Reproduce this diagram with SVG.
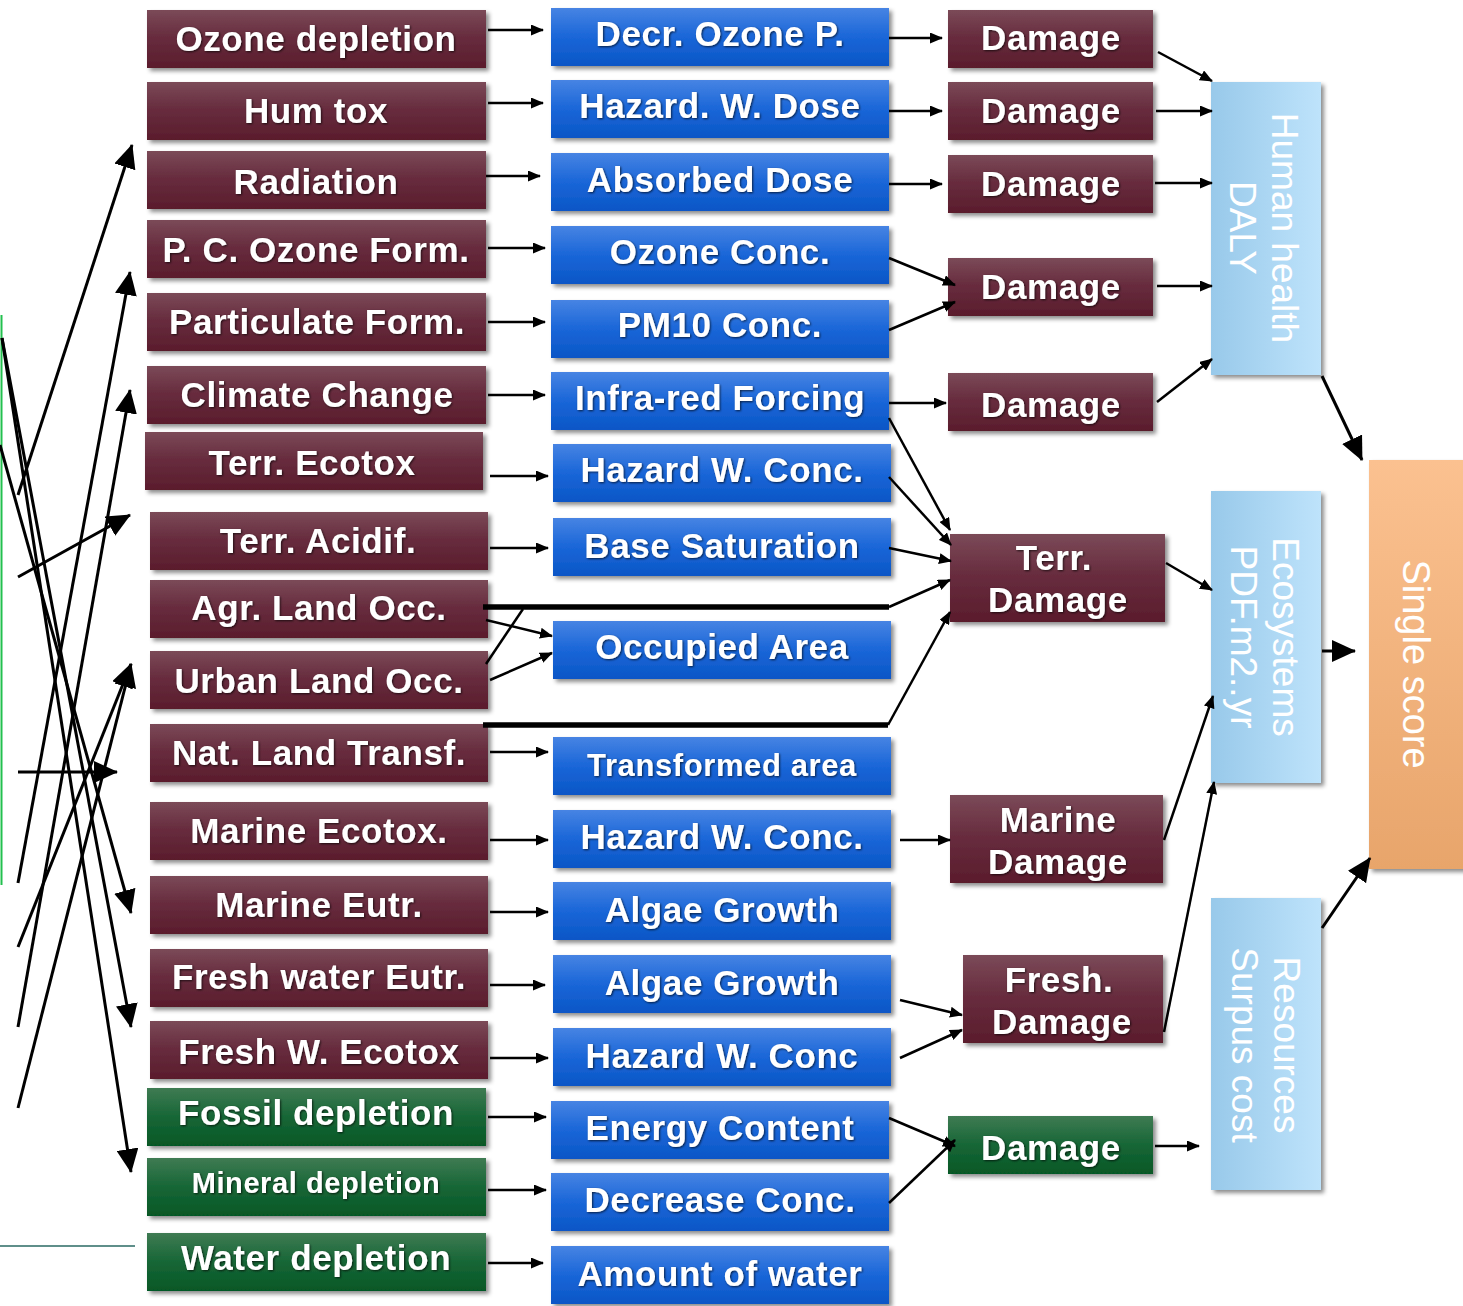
<svg xmlns="http://www.w3.org/2000/svg" width="1463" height="1306" viewBox="0 0 1463 1306">
  <defs>
    <linearGradient id="gMaroon" x1="0" y1="0" x2="0" y2="1">
      <stop offset="0" stop-color="#7b4a58"/>
      <stop offset="0.45" stop-color="#682d3f"/>
      <stop offset="1" stop-color="#5a1c2c"/>
    </linearGradient>
    <linearGradient id="gBlue" x1="0" y1="0" x2="0" y2="1">
      <stop offset="0" stop-color="#4784e3"/>
      <stop offset="0.5" stop-color="#1a66d8"/>
      <stop offset="1" stop-color="#0a56c6"/>
    </linearGradient>
    <linearGradient id="gGreen" x1="0" y1="0" x2="0" y2="1">
      <stop offset="0" stop-color="#3f7b53"/>
      <stop offset="0.5" stop-color="#176636"/>
      <stop offset="1" stop-color="#065826"/>
    </linearGradient>
    <linearGradient id="gSky" x1="0" y1="0" x2="1" y2="0">
      <stop offset="0" stop-color="#98c9ea"/>
      <stop offset="1" stop-color="#bee3fb"/>
    </linearGradient>
    <linearGradient id="gOrange" x1="0" y1="0" x2="0" y2="1">
      <stop offset="0" stop-color="#fbc190"/>
      <stop offset="1" stop-color="#e8a56b"/>
    </linearGradient>
    <filter id="boxShadow" x="-10%" y="-20%" width="130%" height="150%">
      <feDropShadow dx="3" dy="3" stdDeviation="2" flood-color="#000" flood-opacity="0.45"/>
    </filter>
    <filter id="textShadow" x="-5%" y="-20%" width="110%" height="140%">
      <feDropShadow dx="1" dy="1" stdDeviation="0.8" flood-color="#000" flood-opacity="0.7"/>
    </filter>
    <marker id="sm" markerUnits="userSpaceOnUse" markerWidth="13" markerHeight="11" refX="12" refY="5.5" orient="auto">
      <path d="M0,0 L13,5.5 L0,11 z" fill="#000"/>
    </marker>
    <marker id="lg" markerUnits="userSpaceOnUse" markerWidth="24" markerHeight="22" refX="23" refY="11" orient="auto">
      <path d="M0,0 L24,11 L0,22 z" fill="#000"/>
    </marker>
  </defs>
  <style>
    .maroon { fill: url(#gMaroon); filter: url(#boxShadow); }
    .blue { fill: url(#gBlue); filter: url(#boxShadow); }
    .green { fill: url(#gGreen); filter: url(#boxShadow); }
    .sky { fill: url(#gSky); filter: url(#boxShadow); }
    .orange { fill: url(#gOrange); filter: url(#boxShadow); }
    .lbl { font-family: "Liberation Sans", Arial, sans-serif; font-weight: bold; font-size: 35px; letter-spacing: 0.6px; fill: #fff; text-anchor: middle; filter: url(#textShadow); }
    .vlbl { font-family: "Liberation Sans", Arial, sans-serif; font-size: 37px; fill: #fff; text-anchor: middle; }
    .c { fill: none; stroke: #000; stroke-width: 2.5; }
    .cl { fill: none; stroke: #000; stroke-width: 3; }
    .thick { fill: none; stroke: #000; stroke-width: 5.5; }
  </style>

  <!-- edge remnants on the left -->
  <line x1="1.5" y1="315" x2="1.5" y2="885" stroke="#22c04e" stroke-width="2"/>
  <line x1="0" y1="1246" x2="135" y2="1246" stroke="#5f8f8a" stroke-width="2"/>

  <!-- indicator column -->
  <g id="ozone-depletion"><rect class="maroon" x="147" y="10" width="339" height="58"/><text class="lbl" x="316" y="51">Ozone depletion</text></g>
  <g id="hum-tox"><rect class="maroon" x="147" y="82" width="339" height="58"/><text class="lbl" x="316" y="123">Hum tox</text></g>
  <g id="radiation"><rect class="maroon" x="147" y="151" width="339" height="58"/><text class="lbl" x="316" y="194">Radiation</text></g>
  <g id="pc-ozone-form"><rect class="maroon" x="147" y="220" width="339" height="58"/><text class="lbl" x="316" y="262">P. C. Ozone Form.</text></g>
  <g id="particulate-form"><rect class="maroon" x="147" y="293" width="339" height="58"/><text class="lbl" x="317" y="334">Particulate Form.</text></g>
  <g id="climate-change"><rect class="maroon" x="147" y="366" width="339" height="58"/><text class="lbl" x="317" y="407">Climate Change</text></g>
  <g id="terr-ecotox"><rect class="maroon" x="145" y="432" width="338" height="58"/><text class="lbl" x="312" y="475">Terr. Ecotox</text></g>
  <g id="terr-acidif"><rect class="maroon" x="150" y="512" width="338" height="58"/><text class="lbl" x="318" y="553">Terr. Acidif.</text></g>
  <g id="agr-land-occ"><rect class="maroon" x="150" y="580" width="338" height="58"/><text class="lbl" x="319" y="620">Agr. Land Occ.</text></g>
  <g id="urban-land-occ"><rect class="maroon" x="150" y="651" width="338" height="58"/><text class="lbl" x="319" y="693">Urban Land Occ.</text></g>
  <g id="nat-land-transf"><rect class="maroon" x="150" y="724" width="338" height="58"/><text class="lbl" x="319" y="765">Nat. Land Transf.</text></g>
  <g id="marine-ecotox"><rect class="maroon" x="150" y="802" width="338" height="58"/><text class="lbl" x="319" y="843">Marine Ecotox.</text></g>
  <g id="marine-eutr"><rect class="maroon" x="150" y="876" width="338" height="58"/><text class="lbl" x="319" y="917">Marine Eutr.</text></g>
  <g id="fresh-water-eutr"><rect class="maroon" x="150" y="949" width="338" height="58"/><text class="lbl" x="319" y="989">Fresh water Eutr.</text></g>
  <g id="fresh-w-ecotox"><rect class="maroon" x="150" y="1021" width="338" height="58"/><text class="lbl" x="319" y="1064">Fresh W. Ecotox</text></g>
  <g id="fossil-depletion"><rect class="green" x="147" y="1088" width="339" height="58"/><text class="lbl" x="316" y="1125">Fossil depletion</text></g>
  <g id="mineral-depletion"><rect class="green" x="147" y="1158" width="339" height="58"/><text class="lbl" x="316" y="1193" style="font-size:29px">Mineral depletion</text></g>
  <g id="water-depletion"><rect class="green" x="147" y="1233" width="339" height="58"/><text class="lbl" x="316" y="1270">Water depletion</text></g>

  <!-- midpoint column -->
  <g id="decr-ozone-p"><rect class="blue" x="551" y="8" width="338" height="58"/><text class="lbl" x="720" y="46">Decr. Ozone P.</text></g>
  <g id="hazard-w-dose"><rect class="blue" x="551" y="80" width="338" height="58"/><text class="lbl" x="720" y="118">Hazard. W. Dose</text></g>
  <g id="absorbed-dose"><rect class="blue" x="551" y="153" width="338" height="58"/><text class="lbl" x="720" y="192">Absorbed Dose</text></g>
  <g id="ozone-conc"><rect class="blue" x="551" y="226" width="338" height="58"/><text class="lbl" x="720" y="264">Ozone Conc.</text></g>
  <g id="pm10-conc"><rect class="blue" x="551" y="300" width="338" height="58"/><text class="lbl" x="720" y="337">PM10 Conc.</text></g>
  <g id="infra-red-forcing"><rect class="blue" x="551" y="372" width="338" height="58"/><text class="lbl" x="720" y="410">Infra-red Forcing</text></g>
  <g id="hazard-w-conc-terr"><rect class="blue" x="553" y="444" width="338" height="58"/><text class="lbl" x="722" y="482">Hazard W. Conc.</text></g>
  <g id="base-saturation"><rect class="blue" x="553" y="518" width="338" height="58"/><text class="lbl" x="722" y="558">Base Saturation</text></g>
  <g id="occupied-area"><rect class="blue" x="553" y="621" width="338" height="58"/><text class="lbl" x="722" y="659">Occupied Area</text></g>
  <g id="transformed-area"><rect class="blue" x="553" y="737" width="338" height="58"/><text class="lbl" x="722" y="776" style="font-size:31px">Transformed area</text></g>
  <g id="hazard-w-conc-marine"><rect class="blue" x="553" y="810" width="338" height="58"/><text class="lbl" x="722" y="849">Hazard W. Conc.</text></g>
  <g id="algae-growth-marine"><rect class="blue" x="553" y="882" width="338" height="58"/><text class="lbl" x="722" y="922">Algae Growth</text></g>
  <g id="algae-growth-fresh"><rect class="blue" x="553" y="955" width="338" height="58"/><text class="lbl" x="722" y="995">Algae Growth</text></g>
  <g id="hazard-w-conc-fresh"><rect class="blue" x="553" y="1028" width="338" height="58"/><text class="lbl" x="722" y="1068">Hazard W. Conc</text></g>
  <g id="energy-content"><rect class="blue" x="551" y="1101" width="338" height="58"/><text class="lbl" x="720" y="1140">Energy Content</text></g>
  <g id="decrease-conc"><rect class="blue" x="551" y="1173" width="338" height="58"/><text class="lbl" x="720" y="1212">Decrease Conc.</text></g>
  <g id="amount-of-water"><rect class="blue" x="551" y="1246" width="338" height="58"/><text class="lbl" x="720" y="1286">Amount of water</text></g>

  <!-- damage column -->
  <g id="damage-1"><rect class="maroon" x="948" y="10" width="205" height="58"/><text class="lbl" x="1051" y="50">Damage</text></g>
  <g id="damage-2"><rect class="maroon" x="948" y="82" width="205" height="58"/><text class="lbl" x="1051" y="123">Damage</text></g>
  <g id="damage-3"><rect class="maroon" x="948" y="155" width="205" height="58"/><text class="lbl" x="1051" y="196">Damage</text></g>
  <g id="damage-4"><rect class="maroon" x="948" y="258" width="205" height="58"/><text class="lbl" x="1051" y="299">Damage</text></g>
  <g id="damage-5"><rect class="maroon" x="948" y="373" width="205" height="58"/><text class="lbl" x="1051" y="417">Damage</text></g>
  <g id="terr-damage"><rect class="maroon" x="950" y="534" width="215" height="88"/><text class="lbl" x="1054" y="570">Terr.</text><text class="lbl" x="1058" y="612">Damage</text></g>
  <g id="marine-damage"><rect class="maroon" x="950" y="795" width="213" height="88"/><text class="lbl" x="1058" y="832">Marine</text><text class="lbl" x="1058" y="874">Damage</text></g>
  <g id="fresh-damage"><rect class="maroon" x="963" y="955" width="200" height="88"/><text class="lbl" x="1059" y="992">Fresh.</text><text class="lbl" x="1062" y="1034">Damage</text></g>
  <g id="damage-resources"><rect class="green" x="948" y="1116" width="205" height="58"/><text class="lbl" x="1051" y="1160">Damage</text></g>

  <!-- endpoint column -->
  <g id="human-health">
    <rect class="sky" x="1211" y="82" width="110" height="293"/>
    <g transform="translate(1264,228) rotate(90)"><text class="vlbl" x="0" y="-8">Human health</text><text class="vlbl" x="0" y="34">DALY</text></g>
  </g>
  <g id="ecosystems">
    <rect class="sky" x="1211" y="491" width="110" height="292"/>
    <g transform="translate(1264,637) rotate(90)"><text class="vlbl" x="0" y="-9">Ecosystems</text><text class="vlbl" x="0" y="33">PDF.m2..yr</text></g>
  </g>
  <g id="resources">
    <rect class="sky" x="1211" y="898" width="110" height="292"/>
    <g transform="translate(1264,1045) rotate(90)"><text class="vlbl" x="0" y="-10">Resources</text><text class="vlbl" x="0" y="32">Surpus cost</text></g>
  </g>
  <g id="single-score">
    <rect class="orange" x="1369" y="460" width="96" height="409"/>
    <g transform="translate(1416,664) rotate(90)"><text class="vlbl" x="0" y="13" style="font-size:38px">Single score</text></g>
  </g>

  <!-- connectors -->
  <g id="connectors">
    <!-- inflows entering from the left -->
    <line class="cl" x1="18" y1="495" x2="132" y2="145" marker-end="url(#lg)"/>
    <line class="cl" x1="18" y1="883" x2="130" y2="272" marker-end="url(#lg)"/>
    <line class="cl" x1="18" y1="1027" x2="130" y2="390" marker-end="url(#lg)"/>
    <line class="cl" x1="18" y1="577" x2="130" y2="515" marker-end="url(#lg)"/>
    <line class="cl" x1="18" y1="947" x2="131" y2="664" marker-end="url(#lg)"/>
    <line class="cl" x1="18" y1="1108" x2="131" y2="664" marker-end="url(#lg)"/>
    <line class="cl" x1="18" y1="772" x2="117" y2="772" marker-end="url(#lg)"/>
    <line class="cl" x1="2" y1="338" x2="131" y2="1172" marker-end="url(#lg)"/>
    <line class="cl" x1="2" y1="338" x2="131" y2="1027" marker-end="url(#lg)"/>
    <line class="cl" x1="0" y1="445" x2="131" y2="913" marker-end="url(#lg)"/>

    <!-- indicator to midpoint -->
    <line class="c" x1="488" y1="30" x2="543" y2="30" marker-end="url(#sm)"/>
    <line class="c" x1="488" y1="103" x2="543" y2="103" marker-end="url(#sm)"/>
    <line class="c" x1="486" y1="176" x2="540" y2="176" marker-end="url(#sm)"/>
    <line class="c" x1="488" y1="248" x2="545" y2="248" marker-end="url(#sm)"/>
    <line class="c" x1="488" y1="322" x2="545" y2="322" marker-end="url(#sm)"/>
    <line class="c" x1="488" y1="395" x2="545" y2="395" marker-end="url(#sm)"/>
    <line class="c" x1="490" y1="476" x2="548" y2="476" marker-end="url(#sm)"/>
    <line class="c" x1="490" y1="548" x2="548" y2="548" marker-end="url(#sm)"/>
    <line class="c" x1="486" y1="620" x2="552" y2="636" marker-end="url(#sm)"/>
    <line class="c" x1="490" y1="680" x2="552" y2="653" marker-end="url(#sm)"/>
    <line class="c" x1="486" y1="664" x2="523" y2="609"/>
    <line class="c" x1="490" y1="752" x2="548" y2="752" marker-end="url(#sm)"/>
    <line class="c" x1="490" y1="840" x2="548" y2="840" marker-end="url(#sm)"/>
    <line class="c" x1="490" y1="912" x2="548" y2="912" marker-end="url(#sm)"/>
    <line class="c" x1="490" y1="985" x2="545" y2="985" marker-end="url(#sm)"/>
    <line class="c" x1="490" y1="1058" x2="548" y2="1058" marker-end="url(#sm)"/>
    <line class="c" x1="488" y1="1117" x2="546" y2="1117" marker-end="url(#sm)"/>
    <line class="c" x1="488" y1="1190" x2="546" y2="1190" marker-end="url(#sm)"/>
    <line class="c" x1="488" y1="1263" x2="543" y2="1263" marker-end="url(#sm)"/>

    <!-- land use bypass lines -->
    <polyline class="thick" points="483,607 889,607"/>
    <line class="c" x1="889" y1="607" x2="950" y2="580" marker-end="url(#sm)"/>
    <polyline class="thick" points="483,725 888,725"/>
    <line class="c" x1="888" y1="725" x2="950" y2="612" marker-end="url(#sm)"/>

    <!-- midpoint to damage -->
    <line class="c" x1="889" y1="38" x2="942" y2="38" marker-end="url(#sm)"/>
    <line class="c" x1="889" y1="111" x2="942" y2="111" marker-end="url(#sm)"/>
    <line class="c" x1="889" y1="184" x2="942" y2="184" marker-end="url(#sm)"/>
    <line class="c" x1="889" y1="258" x2="955" y2="285" marker-end="url(#sm)"/>
    <line class="c" x1="889" y1="330" x2="955" y2="302" marker-end="url(#sm)"/>
    <line class="c" x1="889" y1="403" x2="946" y2="403" marker-end="url(#sm)"/>
    <line class="c" x1="889" y1="418" x2="950" y2="530" marker-end="url(#sm)"/>
    <line class="c" x1="889" y1="477" x2="951" y2="545" marker-end="url(#sm)"/>
    <line class="c" x1="889" y1="548" x2="951" y2="561" marker-end="url(#sm)"/>
    <line class="c" x1="900" y1="840" x2="950" y2="840" marker-end="url(#sm)"/>
    <line class="c" x1="900" y1="1000" x2="962" y2="1015" marker-end="url(#sm)"/>
    <line class="c" x1="900" y1="1058" x2="962" y2="1030" marker-end="url(#sm)"/>
    <line class="c" x1="889" y1="1118" x2="955" y2="1146" marker-end="url(#sm)"/>
    <line class="c" x1="889" y1="1203" x2="955" y2="1140" marker-end="url(#sm)"/>

    <!-- damage to endpoint -->
    <line class="c" x1="1158" y1="52" x2="1212" y2="81" marker-end="url(#sm)"/>
    <line class="c" x1="1156" y1="111" x2="1212" y2="111" marker-end="url(#sm)"/>
    <line class="c" x1="1155" y1="183" x2="1212" y2="183" marker-end="url(#sm)"/>
    <line class="c" x1="1157" y1="286" x2="1212" y2="286" marker-end="url(#sm)"/>
    <line class="c" x1="1157" y1="402" x2="1212" y2="359" marker-end="url(#sm)"/>
    <line class="c" x1="1166" y1="563" x2="1212" y2="590" marker-end="url(#sm)"/>
    <line class="c" x1="1164" y1="840" x2="1213" y2="696" marker-end="url(#sm)"/>
    <line class="c" x1="1164" y1="1032" x2="1214" y2="782" marker-end="url(#sm)"/>
    <line class="c" x1="1155" y1="1146" x2="1199" y2="1146" marker-end="url(#sm)"/>

    <!-- endpoint to single score -->
    <line class="cl" x1="1322" y1="376" x2="1362" y2="460" marker-end="url(#lg)"/>
    <line class="cl" x1="1322" y1="651" x2="1355" y2="651" marker-end="url(#lg)"/>
    <line class="cl" x1="1322" y1="928" x2="1370" y2="858" marker-end="url(#lg)"/>
  </g>
</svg>
